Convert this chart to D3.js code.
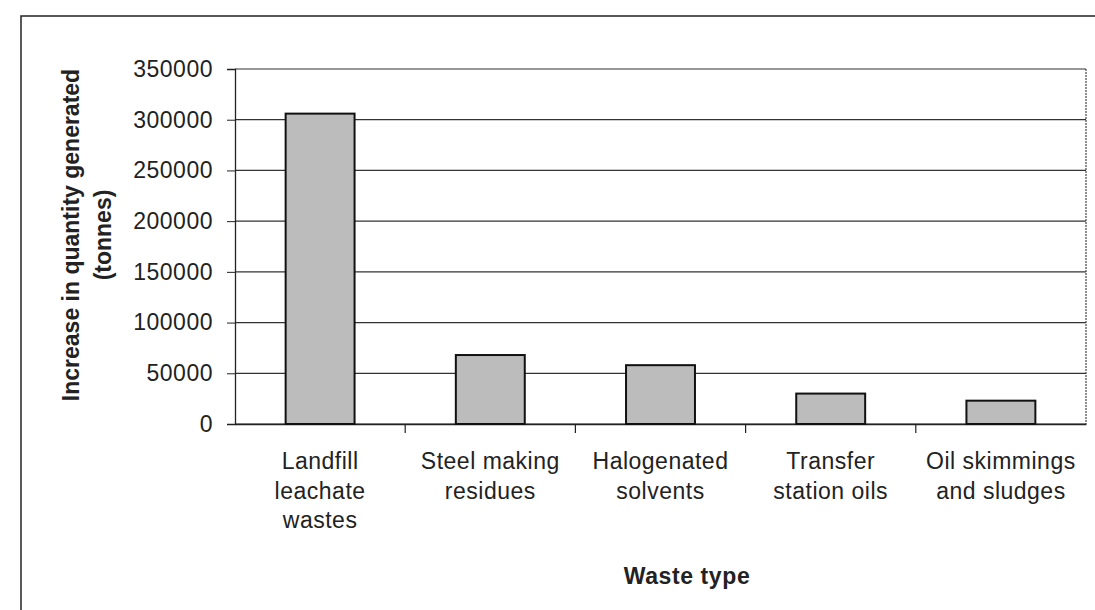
<!DOCTYPE html>
<html><head><meta charset="utf-8">
<script src="https://cdn.jsdelivr.net/npm/d3@7"></script>
<style>
html,body{margin:0;padding:0;background:#fff;}
svg text{font-family:"Liberation Sans",Arial,sans-serif;fill:#222;}
</style></head>
<body>
<svg id="c" width="1095" height="610"></svg>
<script>
const categories = [["Landfill","leachate","wastes"],["Steel making","residues"],["Halogenated","solvents"],["Transfer","station oils"],["Oil skimmings","and sludges"]];
const values = [306000, 68000, 58000, 30000, 23000];
const yTicks = [0,50000,100000,150000,200000,250000,300000,350000];
const yTitle = ["Increase in quantity generated","(tonnes)"];
const xTitle = "Waste type";

const svg = d3.select("#c");
const L=235, R=1086, T=69, B=424;
const keys = categories.map((c,i)=>i);
const x = d3.scaleBand().domain(keys).range([L,R]).paddingInner(0).paddingOuter(0);
const y = d3.scaleLinear().domain([0,350000]).range([B,T]);

// outer frame
svg.append("path").attr("d",`M21,${610} L21,16 L1095,16`).attr("fill","none").attr("stroke","#222").attr("stroke-width",1.5);

// gridlines
svg.append("g").selectAll("line").data(yTicks).join("line")
  .attr("x1",L).attr("x2",R).attr("y1",d=>y(d)).attr("y2",d=>y(d))
  .attr("stroke","#333").attr("stroke-width",1.2);
// right border of plot
svg.append("line").attr("x1",R).attr("x2",R).attr("y1",T).attr("y2",B).attr("stroke","#444").attr("stroke-width",1.2).attr("stroke-dasharray","2,1");

// y axis
const yAxis = svg.append("g").attr("transform",`translate(${L},0)`)
  .call(d3.axisLeft(y).tickValues(yTicks).tickFormat(d3.format("d")).tickSize(8).tickPadding(14));
yAxis.select(".domain").attr("stroke","#222").attr("stroke-width",1.3);
yAxis.selectAll(".tick line").attr("stroke","#222");
yAxis.selectAll("text").attr("font-size",23).attr("fill","#222").style("letter-spacing","0.5px");

// x axis
const xAxis = svg.append("g").attr("transform",`translate(0,${B})`)
  .call(d3.axisBottom(x).tickSize(0).tickFormat(""));
xAxis.select(".domain").attr("stroke","#222").attr("stroke-width",1.3);
// boundary ticks
svg.append("g").selectAll("line").data(keys.slice(1)).join("line")
  .attr("x1",d=>x(d)).attr("x2",d=>x(d)).attr("y1",B).attr("y2",B+9)
  .attr("stroke","#222").attr("stroke-width",1.2);

// bars
const bw = x.bandwidth()*0.405;
svg.append("g").selectAll("rect").data(values).join("rect")
  .attr("x",(d,i)=>x(i)+x.bandwidth()/2-bw/2)
  .attr("width",bw)
  .attr("y",d=>y(d)).attr("height",d=>B-y(d))
  .attr("fill","#bcbcbc").attr("stroke","#111").attr("stroke-width",2);

// category labels
const cl = svg.append("g");
categories.forEach((lines,i)=>{
  const t = cl.append("text").attr("text-anchor","middle").attr("font-size",23).style("letter-spacing","0.5px");
  lines.forEach((ln,j)=>{
    t.append("tspan").attr("x",x(i)+x.bandwidth()/2).attr("y",469+j*29.5).text(ln);
  });
});

// x title
svg.append("text").attr("x",687).attr("y",584).attr("text-anchor","middle")
  .attr("font-size",23).attr("font-weight","bold").style("letter-spacing","0.6px").text(xTitle);

// y title
const yt = svg.append("text").attr("transform","translate(79,235) rotate(-90)")
  .attr("text-anchor","middle").attr("font-size",23).attr("font-weight","bold");
yTitle.forEach((ln,j)=>{
  yt.append("tspan").attr("x",0).attr("y",j*32).text(ln);
});
</script>
</body></html>
